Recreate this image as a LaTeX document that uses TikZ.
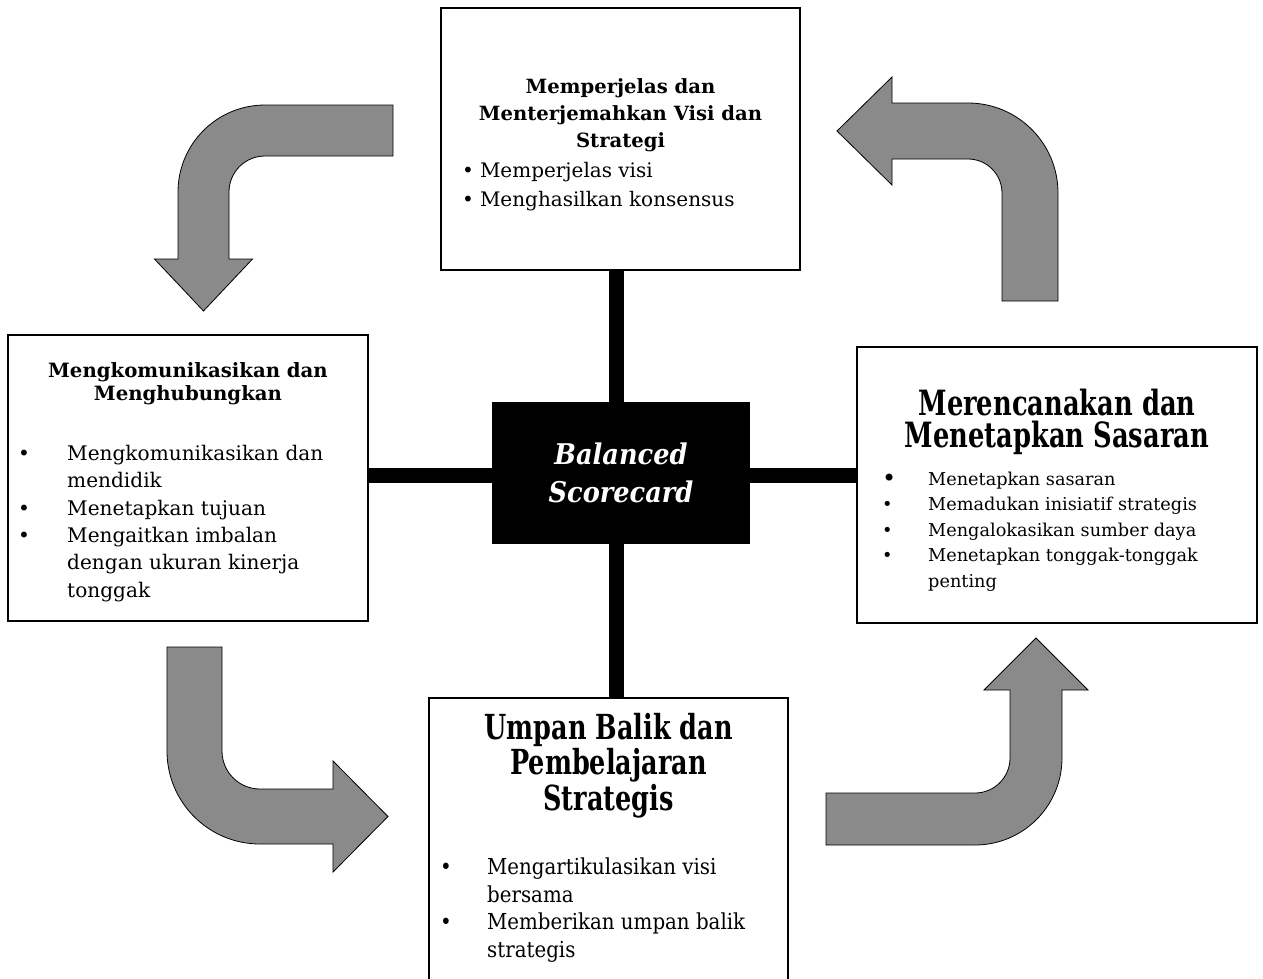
\documentclass[tikz,border=0pt]{standalone}
\usepackage{fontspec}
\setmainfont{DejaVu Serif}
\newfontfamily\plainserif{DejaVu Serif}[FakeStretch=0.9]
\newfontfamily\narrowserif{DejaVu Serif}[FakeStretch=0.74]
\usetikzlibrary{positioning}
\newcommand{\bul}[1]{\makebox[#1][l]{\textbullet}}
\newcommand{\hang}[1]{\hspace*{#1}}
\tikzset{
  panel/.style={
    draw,
    rectangle,
    line width=2pt,
    inner sep=0pt
  },
  hub/.style={
    rectangle,
    fill=black,
    text=white,
    align=center,
    inner sep=0pt
  },
  bar/.style={line width=15pt},
  turn/.style={draw=black, line width=0.8pt, fill=black!46},
  heading/.style={inner sep=0pt, align=center},
  points/.style={inner sep=0pt, align=left}
}

\begin{document}
\begin{tikzpicture}[x=1pt, y=-1pt]
  \useasboundingbox (0,0) rectangle (1263,978);

  % bent arrows
  \draw[turn] (393,105) -- (265,105) arc[start angle=270, end angle=180, radius=87]
    -- (178,259) -- (154.5,259) -- (203.5,311) -- (252.5,259) -- (229,259)
    -- (229,192) arc[start angle=180, end angle=270, radius=36] -- (393,156) -- cycle;
  \draw[turn] (1058,301) -- (1058,193) arc[start angle=0, end angle=-90, radius=90]
    -- (892,103) -- (892,77) -- (837,131) -- (892,185) -- (892,159)
    -- (968,159) arc[start angle=-90, end angle=0, radius=34] -- (1002,301) -- cycle;
  \draw[turn] (167,647) -- (167,751) arc[start angle=180, end angle=90, radius=93]
    -- (333,844) -- (333,872) -- (388,816.5) -- (333,761) -- (333,789)
    -- (260,789) arc[start angle=90, end angle=180, radius=38] -- (222,647) -- cycle;
  \draw[turn] (826,845) -- (975,845) arc[start angle=90, end angle=0, radius=87]
    -- (1062,690) -- (1088,690) -- (1036,638) -- (984,690) -- (1010,690)
    -- (1010,758) arc[start angle=0, end angle=90, radius=35] -- (826,793) -- cycle;

  % panels
  \node[panel, minimum width=359pt, minimum height=262pt] (top) at (620.5,139) {};
  \node[panel, minimum width=360pt, minimum height=286pt] (left) at (188,478) {};
  \node[panel, minimum width=400pt, minimum height=276pt] (right) at (1057,485) {};
  \node[panel, minimum width=359pt, minimum height=292pt] (bottom) at (608.5,844) {};
  \node[hub, minimum width=258pt, minimum height=142pt,
    font=\plainserif\bfseries\itshape\fontsize{28.5}{38}\selectfont] (bsc) at (621,473)
    {Balanced\\Scorecard};

  % spokes
  \coordinate (spine) at (616,0);
  \coordinate (rail) at (0,475.5);
  \draw[bar] (top.south -| spine) -- (bsc.north -| spine);
  \draw[bar] (bsc.south -| spine) -- (bottom.north -| spine);
  \draw[bar] (left.east |- rail) -- (bsc.west |- rail);
  \draw[bar] (bsc.east |- rail) -- (right.west |- rail);

  % texts
  \node[heading, below=71pt of top.north,
    font=\bfseries\fontsize{19.6}{27}\selectfont] (toptitle)
    {Memperjelas dan\\Menterjemahkan Visi dan\\Strategi};
  \node[points, below right=155.4pt and 22pt of top.north west,
    font=\fontsize{20}{29}\selectfont] (toplist)
    {\textbullet\hspace{6pt}Memperjelas visi\\\textbullet\hspace{6pt}Menghasilkan konsensus};

  \node[heading, below=28.6pt of left.north,
    font=\bfseries\fontsize{19.7}{23}\selectfont] (lefttitle)
    {Mengkomunikasikan dan\\Menghubungkan};
  \node[points, below right=110.9pt and 11pt of left.north west,
    font=\fontsize{20.1}{27.4}\selectfont] (leftlist)
    {\bul{49pt}Mengkomunikasikan dan\\
     \hang{49pt}mendidik\\
     \bul{49pt}Menetapkan tujuan\\
     \bul{49pt}Mengaitkan imbalan\\
     \hang{49pt}dengan ukuran kinerja\\
     \hang{49pt}tonggak};

  \node[heading, below=43pt of right.north,
    font=\narrowserif\bfseries\fontsize{34.8}{32}\selectfont] (righttitle)
    {Merencanakan dan\\Menetapkan Sasaran};
  \node[points, below right=125.5pt and 26pt of right.north west,
    font=\fontsize{17.7}{25.5}\selectfont] (rightlist)
    {\makebox[46pt][l]{\raisebox{-1.5pt}[0pt][0pt]{\fontsize{24}{24}\selectfont\textbullet}}Menetapkan sasaran\\
     \bul{46pt}Memadukan inisiatif strategis\\
     \bul{46pt}Mengalokasikan sumber daya\\
     \bul{46pt}Menetapkan tonggak-tonggak\\
     \hang{46pt}penting};

  \node[heading, below=16pt of bottom.north,
    font=\narrowserif\bfseries\fontsize{34.5}{35.5}\selectfont] (bottomtitle)
    {Umpan Balik dan\\Pembelajaran\\Strategis};
  \node[points, below right=160.6pt and 12pt of bottom.north west,
    font=\plainserif\fontsize{22}{27.7}\selectfont] (bottomlist)
    {\bul{47pt}Mengartikulasikan visi\\
     \hang{47pt}bersama\\
     \bul{47pt}Memberikan umpan balik\\
     \hang{47pt}strategis};
\end{tikzpicture}
\end{document}
